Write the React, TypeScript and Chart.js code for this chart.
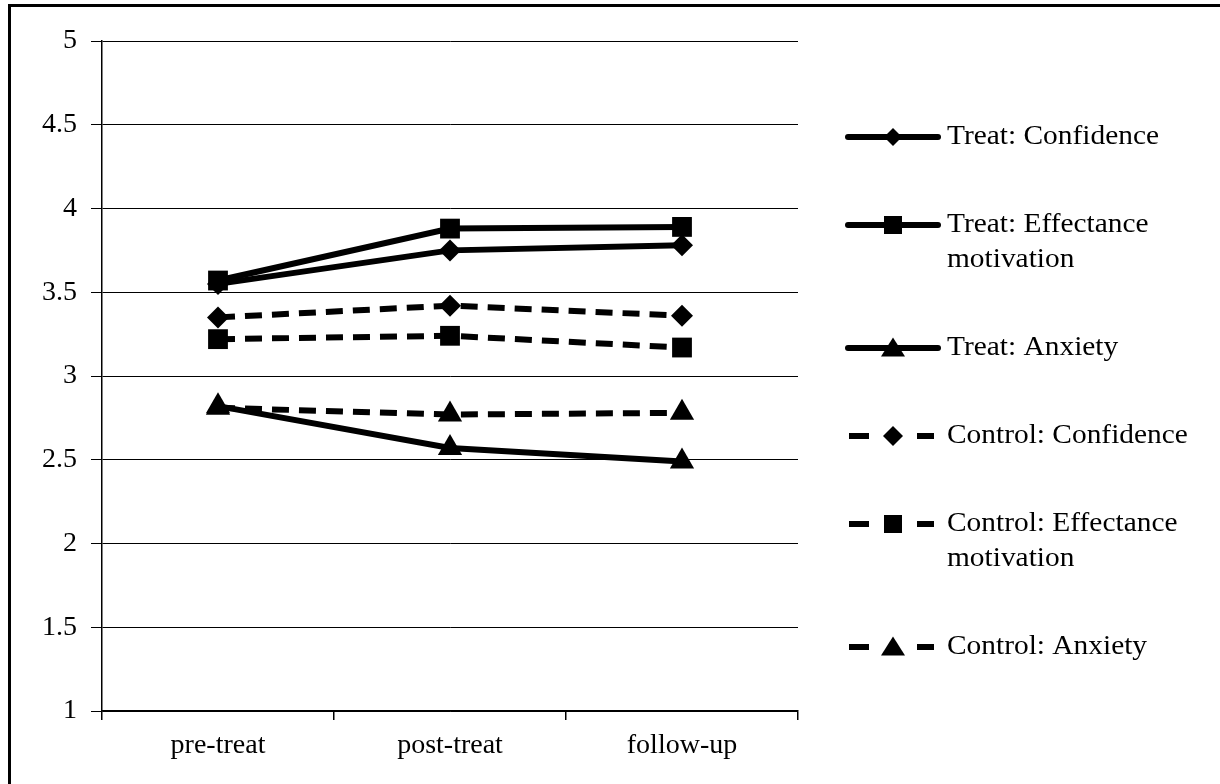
import React, { useEffect, useRef } from 'react';
import { Chart, registerables } from 'chart.js';

Chart.register(...registerables);

const categories = ['pre-treat', 'post-treat', 'follow-up'];

const treatConfidence = [3.55, 3.75, 3.78];
const treatEffectance = [3.57, 3.88, 3.89];
const treatAnxiety = [2.82, 2.57, 2.49];
const controlConfidence = [3.35, 3.42, 3.36];
const controlEffectance = [3.22, 3.24, 3.17];
const controlAnxiety = [2.81, 2.77, 2.78];

const seriesNames = [
  'Treat: Confidence',
  'Treat: Effectance motivation',
  'Treat: Anxiety',
  'Control: Confidence',
  'Control: Effectance motivation',
  'Control: Anxiety',
];
const legendLines = [
  ['Treat: Confidence'],
  ['Treat: Effectance', 'motivation'],
  ['Treat: Anxiety'],
  ['Control: Confidence'],
  ['Control: Effectance', 'motivation'],
  ['Control: Anxiety'],
];

const yMin = 1;
const yMax = 5;
const yStep = 0.5;

const FONT = "'Liberation Serif', 'Times New Roman', serif";
const FONT_SIZE = 28;

type Shape = 'diamond' | 'square' | 'triangle';

function drawMarker(ctx: CanvasRenderingContext2D, shape: Shape, x: number, y: number, r: number) {
  ctx.save();
  ctx.fillStyle = '#000';
  ctx.beginPath();
  if (shape === 'diamond') {
    ctx.moveTo(x, y - r);
    ctx.lineTo(x + r, y);
    ctx.lineTo(x, y + r);
    ctx.lineTo(x - r, y);
  } else if (shape === 'square') {
    ctx.rect(x - r, y - r, 2 * r, 2 * r);
  } else {
    ctx.moveTo(x, y - r * 1.05);
    ctx.lineTo(x + r * 1.2, y + r * 0.85);
    ctx.lineTo(x - r * 1.2, y + r * 0.85);
  }
  ctx.closePath();
  ctx.fill();
  ctx.restore();
}

const legendShapes: Shape[] = ['diamond', 'square', 'triangle', 'diamond', 'square', 'triangle'];
const legendDashed = [false, false, false, true, true, true];
const legendMarkerSize = [9, 9, 10, 10, 9, 10];

const legendPlugin = {
  id: 'customLegend',
  afterDraw(chart: any) {
    const ctx: CanvasRenderingContext2D = chart.ctx;
    const area = chart.chartArea;
    const lineX0 = area.right + 50;
    const lineX1 = area.right + 140;
    const markerX = (lineX0 + lineX1) / 2;
    const textX = area.right + 149;
    const lineHeight = 35;
    const itemGap = 88;
    let y = 137;
    ctx.save();
    ctx.font = `${FONT_SIZE}px ${FONT}`;
    ctx.fillStyle = '#000';
    ctx.textBaseline = 'middle';
    ctx.textAlign = 'left';
    legendLines.forEach((lines, i) => {
      ctx.strokeStyle = '#000';
      ctx.lineWidth = 6;
      ctx.lineCap = 'round';
      ctx.beginPath();
      if (legendDashed[i]) {
        ctx.lineCap = 'butt';
        ctx.moveTo(lineX0 + 1, y);
        ctx.lineTo(lineX0 + 21, y);
        ctx.moveTo(lineX1 - 21, y);
        ctx.lineTo(lineX1 - 4, y);
      } else {
        ctx.moveTo(lineX0, y);
        ctx.lineTo(lineX1, y);
      }
      ctx.stroke();
      drawMarker(ctx, legendShapes[i], markerX, y, legendMarkerSize[i]);
      lines.forEach((t, j) => {
        ctx.save();
        ctx.translate(textX, y + j * lineHeight);
        ctx.scale(1.05, 1);
        ctx.fillText(t, 0, 0);
        ctx.restore();
      });
      y += itemGap + (lines.length - 1) * lineHeight;
    });
    ctx.restore();
  },
};

export default function App() {
  const canvasRef = useRef<HTMLCanvasElement | null>(null);

  useEffect(() => {
    if (!canvasRef.current) return;
    const solid: number[] = [];
    const dashed = [17, 10];
    const mk = (label: string, data: number[], style: string, radius: number, dash: number[]) => ({
      label,
      data,
      borderColor: '#000',
      backgroundColor: '#000',
      borderWidth: 6,
      borderDash: dash,
      pointStyle: style,
      pointRadius: radius,
      pointBorderWidth: 0,
      pointBackgroundColor: '#000',
      pointBorderColor: '#000',
      tension: 0,
      fill: false,
    });
    const chart = new Chart(canvasRef.current, {
      type: 'line',
      data: {
        labels: categories,
        datasets: [
          mk(seriesNames[5], controlAnxiety, 'triangle', 14, dashed),
          mk(seriesNames[4], controlEffectance, 'rect', 14, dashed),
          mk(seriesNames[3], controlConfidence, 'rectRot', 11, dashed),
          mk(seriesNames[2], treatAnxiety, 'triangle', 14, solid),
          mk(seriesNames[0], treatConfidence, 'rectRot', 11, solid),
          mk(seriesNames[1], treatEffectance, 'rect', 14, solid),
        ] as any,
      },
      options: {
        animation: false,
        responsive: false,
        devicePixelRatio: 1,
        layout: { padding: { left: 0, right: 422, top: 41, bottom: 0 } },
        plugins: {
          legend: { display: false },
          tooltip: { enabled: false },
          title: { display: false },
        },
        scales: {
          x: {
            type: 'category',
            offset: true,
            grid: {
              display: true,
              drawOnChartArea: false,
              drawTicks: true,
              tickLength: 9,
              color: '#000',
              lineWidth: 1.5,
              offset: true,
            },
            border: { display: true, color: '#000', width: 1.5 },
            ticks: {
              color: '#000',
              font: { family: FONT, size: FONT_SIZE },
              padding: 9,
              maxRotation: 0,
            },
            afterFit: (scale: any) => {
              scale.height = 784 - 711;
            },
          },
          y: {
            min: yMin,
            max: yMax,
            grid: {
              color: '#000',
              lineWidth: 1,
              tickLength: 11,
              drawTicks: true,
            },
            border: { display: true, color: '#000', width: 1.5 },
            ticks: {
              stepSize: yStep,
              color: '#000',
              font: { family: FONT, size: FONT_SIZE },
              padding: 14,
              callback: (v: any) => String(Number(v)),
            },
            afterFit: (scale: any) => {
              scale.width = 102;
            },
          },
        },
      },
      plugins: [legendPlugin],
    });
    return () => chart.destroy();
  }, []);

  return (
    <div style={{ position: 'fixed', left: 0, top: 0, width: 1220, height: 784, background: '#fff' }}>
      <canvas ref={canvasRef} width={1220} height={784} style={{ position: 'absolute', left: 0, top: 0 }} />
      <div
        style={{
          position: 'absolute',
          left: 8,
          top: 4,
          width: 1212,
          height: 780,
          borderTop: '3px solid #000',
          borderLeft: '3px solid #000',
          boxSizing: 'border-box',
          pointerEvents: 'none',
        }}
      />
    </div>
  );
}
